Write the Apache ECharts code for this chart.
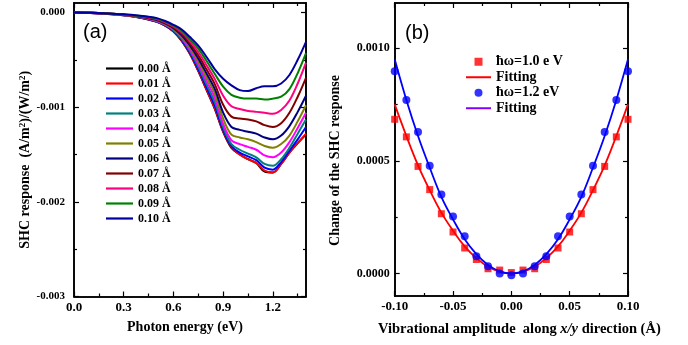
<!DOCTYPE html>
<html><head><meta charset="utf-8">
<script src="https://cdn.jsdelivr.net/npm/echarts@6/dist/echarts.min.js"></script>
<style>html,body{margin:0;padding:0;background:#fff}#c{width:688px;height:345px}</style>
</head><body><div id="c"></div>
<script>
// ---------- Panel (a) data ----------
const energy = [0, 0.1, 0.2, 0.3, 0.4, 0.45, 0.5, 0.55, 0.6, 0.65, 0.7, 0.75, 0.8, 0.85, 0.9, 0.95, 1.0, 1.05, 1.1, 1.15, 1.2, 1.25, 1.3, 1.35, 1.4];
const ampLabels = ['0.00 Å','0.01 Å','0.02 Å','0.03 Å','0.04 Å','0.05 Å','0.06 Å','0.07 Å','0.08 Å','0.09 Å','0.10 Å'];
const shc000 = [0, -0.000005, -0.000015, -0.00003, -0.000055, -0.000075, -0.0001, -0.00014, -0.0002, -0.0003, -0.00044, -0.00062, -0.00082, -0.00102, -0.00126, -0.00143, -0.0015, -0.00155, -0.00159, -0.00168, -0.00169, -0.0016, -0.00148, -0.00138, -0.00129];
const shc001 = [0, -0.000005, -0.000015, -0.00003, -0.000054, -0.000074, -0.000099, -0.000139, -0.000199, -0.000298, -0.000436, -0.000615, -0.000813, -0.001012, -0.001254, -0.00142, -0.0015, -0.00155, -0.00159, -0.00167, -0.00169, -0.0016, -0.00148, -0.00138, -0.00128];
const shc002 = [0, -0.000005, -0.000014, -0.000029, -0.000053, -0.000072, -0.000097, -0.000136, -0.000194, -0.00029, -0.000426, -0.000598, -0.000792, -0.000986, -0.001238, -0.00141, -0.00148, -0.00152, -0.00156, -0.00164, -0.00166, -0.00158, -0.00146, -0.00134, -0.00121];
const shc003 = [0, -0.000004, -0.000014, -0.000028, -0.000051, -0.00007, -0.000093, -0.000132, -0.000188, -0.00028, -0.000409, -0.000574, -0.00076, -0.000949, -0.00121, -0.00139, -0.00145, -0.00149, -0.00153, -0.0016, -0.00162, -0.00155, -0.00143, -0.00128, -0.00113];
const shc004 = [0, -0.000004, -0.000013, -0.000027, -0.000049, -0.000066, -0.000089, -0.000126, -0.00018, -0.000266, -0.00039, -0.000544, -0.000722, -0.000902, -0.001176, -0.00135, -0.00139, -0.00142, -0.00145, -0.00151, -0.00153, -0.00148, -0.00137, -0.00122, -0.00106];
const shc005 = [0, -0.000004, -0.000013, -0.000026, -0.000047, -0.000063, -0.000084, -0.00012, -0.000173, -0.000253, -0.00037, -0.000515, -0.000684, -0.000856, -0.00112, -0.00129, -0.00132, -0.00134, -0.00137, -0.00141, -0.00143, -0.00139, -0.0013, -0.00115, -0.00098];
const shc006 = [0, -0.000004, -0.000012, -0.000025, -0.000045, -0.00006, -0.00008, -0.000115, -0.000165, -0.00024, -0.00035, -0.000485, -0.000645, -0.00081, -0.001058, -0.00121, -0.00124, -0.00126, -0.00128, -0.00132, -0.00134, -0.0013, -0.0012, -0.00105, -0.00088];
const shc007 = [0, -0.000004, -0.000012, -0.000024, -0.000043, -0.000056, -0.000075, -0.000109, -0.000157, -0.000226, -0.000328, -0.000453, -0.000603, -0.00076, -0.000974, -0.0011, -0.00112, -0.00113, -0.00115, -0.00119, -0.00121, -0.00117, -0.00106, -0.00089, -0.00069];
const shc008 = [0, -0.000004, -0.000011, -0.000023, -0.00004, -0.000053, -0.00007, -0.000103, -0.000148, -0.00021, -0.000305, -0.000418, -0.000558, -0.000705, -0.000879, -0.00099, -0.00102, -0.00104, -0.00105, -0.00106, -0.00107, -0.00103, -0.00093, -0.00075, -0.00053];
const shc009 = [0, -0.000003, -0.000011, -0.000022, -0.000038, -0.000049, -0.000065, -0.000096, -0.000138, -0.000194, -0.000282, -0.000382, -0.000512, -0.00065, -0.000784, -0.00087, -0.0009, -0.00091, -0.00091, -0.00092, -0.00091, -0.00089, -0.00081, -0.00064, -0.00043];
const shc010 = [0, -0.000003, -0.00001, -0.00002, -0.000035, -0.000045, -0.00006, -0.00009, -0.00013, -0.00018, -0.00026, -0.00035, -0.00047, -0.0006, -0.0007, -0.00077, -0.00082, -0.00083, -0.0008, -0.00078, -0.00078, -0.00075, -0.00066, -0.0005, -0.00031];
const curveColors = ['#000000','#ff0000','#0000ff','#008080','#ff00ff','#808000','#000080','#800000','#ff0080','#008000','#0000a0'];

// ---------- Panel (b) data ----------
const vibAmp = [-0.1, -0.09, -0.08, -0.07, -0.06, -0.05, -0.04, -0.03, -0.02, -0.01, 0, 0.01, 0.02, 0.03, 0.04, 0.05, 0.06, 0.07, 0.08, 0.09, 0.1];
const pts10 = [0.000684, 0.000606, 0.000475, 0.000372, 0.000265, 0.000184, 0.000113, 0.000062, 0.000021, 0.000015, 0.000004, 0.000015, 0.000021, 0.000062, 0.000113, 0.000184, 0.000265, 0.000372, 0.000475, 0.000606, 0.000684];
const fit10 = [0.00075, 0.00061, 0.00048, 0.00037, 0.00027, 0.00019, 0.00012, 0.000068, 0.00003, 0.0000075, 0, 0.0000075, 0.00003, 0.000068, 0.00012, 0.00019, 0.00027, 0.00037, 0.00048, 0.00061, 0.00075];
const pts12 = [0.000897, 0.00077, 0.000628, 0.000478, 0.00035, 0.000253, 0.000165, 0.000076, 0.000032, 0, -0.0000075, 0, 0.000032, 0.000076, 0.000165, 0.000253, 0.00035, 0.000478, 0.000628, 0.00077, 0.000897];
const fit12 = [0.00095, 0.00077, 0.00061, 0.00047, 0.00034, 0.00024, 0.000152, 0.000086, 0.000038, 0.0000095, 0, 0.0000095, 0.000038, 0.000086, 0.000152, 0.00024, 0.00034, 0.00047, 0.00061, 0.00077, 0.00095];

// ---------- Tick values ----------
const xTicksA = [0, 0.3, 0.6, 0.9, 1.2];
const xMinorA = [0.15, 0.45, 0.75, 1.05, 1.35];
const yTicksA = [-0.003, -0.002, -0.001, 0];
const yMinorA = [-0.0025, -0.0015, -0.0005];
const xTicksB = [-0.1, -0.05, 0, 0.05, 0.1];
const xMinorB = [-0.075, -0.025, 0.025, 0.075];
const yTicksB = [0, 0.0005, 0.001];
const yMinorB = [0.00025, 0.00075];

const SERIF = 'Liberation Serif';
const SANS = 'Liberation Sans';

function axis(gridIndex, pos, min, max, values, len, label) {
  const a = {
    type: 'value', gridIndex: gridIndex, position: pos, min: min, max: max,
    axisLine: {show: true, onZero: false, lineStyle: {color: '#000', width: 1.6}},
    axisTick: {show: true, inside: true, length: len, customValues: values, lineStyle: {color: '#000', width: 1.2}},
    axisLabel: {show: false, customValues: values},
    splitLine: {show: false}, minorTick: {show: false}
  };
  if (label) {
    a.axisLabel = Object.assign({show: true, customValues: values, color: '#000', fontFamily: SERIF, fontWeight: 'bold'}, label);
  }
  return a;
}

const chart = echarts.init(document.getElementById('c'), null, {renderer: 'canvas'});

const xA = axis(0, 'bottom', 0, 1.4, xTicksA, 5, {fontSize: 13, margin: 5, formatter: v => v.toFixed(1)});
xA.name = 'Photon energy (eV)'; xA.nameLocation = 'middle'; xA.nameGap = 24;
xA.nameTextStyle = {fontFamily: SERIF, fontWeight: 'bold', fontSize: 14, color: '#000', padding: [0, 10, 0, 0]};
const yA = axis(0, 'left', -0.003, 0.0001, yTicksA, 5, {fontSize: 11, margin: 9, formatter: v => v.toFixed(3)});
yA.name = '{t|SHC response  (A/m}{s|2}{t|)/(W/m}{s|2}{t|)}'; yA.nameLocation = 'middle'; yA.nameGap = 40; yA.nameRotate = 90;
yA.nameTextStyle = {fontFamily: SERIF, fontWeight: 'bold', fontSize: 14, color: '#000', padding: [0, 20, 0, 0], rich: {
  t: {fontFamily: SERIF, fontWeight: 'bold', fontSize: 14, color: '#000'},
  s: {fontFamily: SERIF, fontWeight: 'bold', fontSize: 9, color: '#000', verticalAlign: 'top', padding: [0, 0, 6, 0]}
}};

const xB = axis(1, 'bottom', -0.1, 0.1, xTicksB, 5, {fontSize: 13, margin: 4, formatter: v => v.toFixed(2)});
xB.name = '{t|Vibrational amplitude  along }{i|x/y}{t| direction (Å)}'; xB.nameLocation = 'middle'; xB.nameGap = 26;
xB.nameTextStyle = {fontFamily: SERIF, fontWeight: 'bold', fontSize: 14.5, color: '#000', padding: [0, 0, 0, 16], rich: {
  t: {fontFamily: SERIF, fontWeight: 'bold', fontSize: 14.5, color: '#000'},
  i: {fontFamily: SERIF, fontWeight: 'bold', fontStyle: 'italic', fontSize: 14.5, color: '#000'}
}};
const yB = axis(1, 'left', -0.0001, 0.0012, yTicksB, 5, {fontSize: 12, margin: 5, formatter: v => v.toFixed(4)});
yB.name = 'Change of the SHC response'; yB.nameLocation = 'middle'; yB.nameGap = 52; yB.nameRotate = 90;
yB.nameTextStyle = {fontFamily: SERIF, fontWeight: 'bold', fontSize: 14, color: '#000', padding: [0, 22, 0, 0]};

const xAxes = [
  xA,
  axis(0, 'bottom', 0, 1.4, xMinorA, 3),
  axis(0, 'top', 0, 1.4, xTicksA, 5),
  axis(0, 'top', 0, 1.4, xMinorA, 3),
  xB,
  axis(1, 'bottom', -0.1, 0.1, xMinorB, 3),
  axis(1, 'top', -0.1, 0.1, xTicksB, 5),
  axis(1, 'top', -0.1, 0.1, xMinorB, 3)
];
const yAxes = [
  yA,
  axis(0, 'left', -0.003, 0.0001, yMinorA, 3),
  axis(0, 'right', -0.003, 0.0001, yTicksA, 5),
  axis(0, 'right', -0.003, 0.0001, yMinorA, 3),
  yB,
  axis(1, 'left', -0.0001, 0.0012, yMinorB, 3),
  axis(1, 'right', -0.0001, 0.0012, yTicksB, 5),
  axis(1, 'right', -0.0001, 0.0012, yMinorB, 3)
];

const curves = [shc000, shc001, shc002, shc003, shc004, shc005, shc006, shc007, shc008, shc009, shc010];
const series = curves.map((arr, i) => ({
  type: 'line', name: ampLabels[i], xAxisIndex: 0, yAxisIndex: 0,
  data: energy.map((e, j) => [e, arr[j]]),
  smooth: 0.35, showSymbol: false, symbol: 'none',
  lineStyle: {color: curveColors[i], width: 2}, itemStyle: {color: curveColors[i]},
  animation: false, z: 2 + i
}));
series.push({
  type: 'scatter', name: 'p10', xAxisIndex: 4, yAxisIndex: 4,
  data: vibAmp.map((x, j) => [x, pts10[j]]),
  symbol: 'rect', symbolSize: 7, itemStyle: {color: '#ff0000'}, animation: false, z: 3
});
series.push({
  type: 'line', name: 'f10', xAxisIndex: 4, yAxisIndex: 4,
  data: vibAmp.map((x, j) => [x, fit10[j]]),
  smooth: 0.4, showSymbol: false, symbol: 'none',
  lineStyle: {color: '#ff0000', width: 1.8}, itemStyle: {color: '#ff0000'}, animation: false, z: 4
});
series.push({
  type: 'scatter', name: 'p12', xAxisIndex: 4, yAxisIndex: 4,
  data: vibAmp.map((x, j) => [x, pts12[j]]),
  symbol: 'circle', symbolSize: 8, itemStyle: {color: '#0000ff'}, animation: false, z: 5
});
series.push({
  type: 'line', name: 'f12', xAxisIndex: 4, yAxisIndex: 4,
  data: vibAmp.map((x, j) => [x, fit12[j]]),
  smooth: 0.4, showSymbol: false, symbol: 'none',
  lineStyle: {color: '#0000ff', width: 1.8}, itemStyle: {color: '#0000ff'}, animation: false, z: 6
});

const legendBNames = {p10: 'ħω=1.0 e V', f10: 'Fitting', p12: 'ħω=1.2 eV', f12: 'Fitting'};
const LINE_ICON = 'path://M0,0L25,0L25,2L0,2Z';
const SQUARE_ICON = 'path://M0,0L10,0L10,10L0,10Z';

chart.setOption({
  animation: false,
  backgroundColor: '#fff',
  grid: [
    {left: 74, top: 3, width: 232, height: 293.5, containLabel: false},
    {left: 394.7, top: 3, width: 233.3, height: 293, containLabel: false}
  ],
  xAxis: xAxes,
  yAxis: yAxes,
  legend: [
    {
      data: ampLabels, orient: 'vertical', left: 101, top: 56,
      icon: 'rect', itemWidth: 27, itemHeight: 2.2, itemGap: 0,
      textStyle: {fontFamily: SERIF, fontWeight: 'bold', fontSize: 12, color: '#000', lineHeight: 15},
      selectedMode: false
    },
    {
      data: [
        {name: 'p10', icon: SQUARE_ICON},
        {name: 'f10', icon: LINE_ICON},
        {name: 'p12', icon: 'circle'},
        {name: 'f12', icon: LINE_ICON, itemStyle: {color: '#8000ff'}, lineStyle: {color: '#8000ff'}}
      ],
      orient: 'vertical', left: 461, top: 49,
      itemWidth: 25, itemHeight: 8, itemGap: 0, symbolKeepAspect: true,
      formatter: n => legendBNames[n],
      textStyle: {fontFamily: SERIF, fontWeight: 'bold', fontSize: 14, color: '#000', lineHeight: 15.5},
      selectedMode: false
    }
  ],
  graphic: [
    {type: 'text', left: 83, top: 22, style: {text: '(a)', fontFamily: SANS, fontSize: 20, fill: '#000'}},
    {type: 'text', left: 405, top: 23, style: {text: '(b)', fontFamily: SANS, fontSize: 20, fill: '#000'}}
  ],
  series: series
});
</script>
</body></html>
